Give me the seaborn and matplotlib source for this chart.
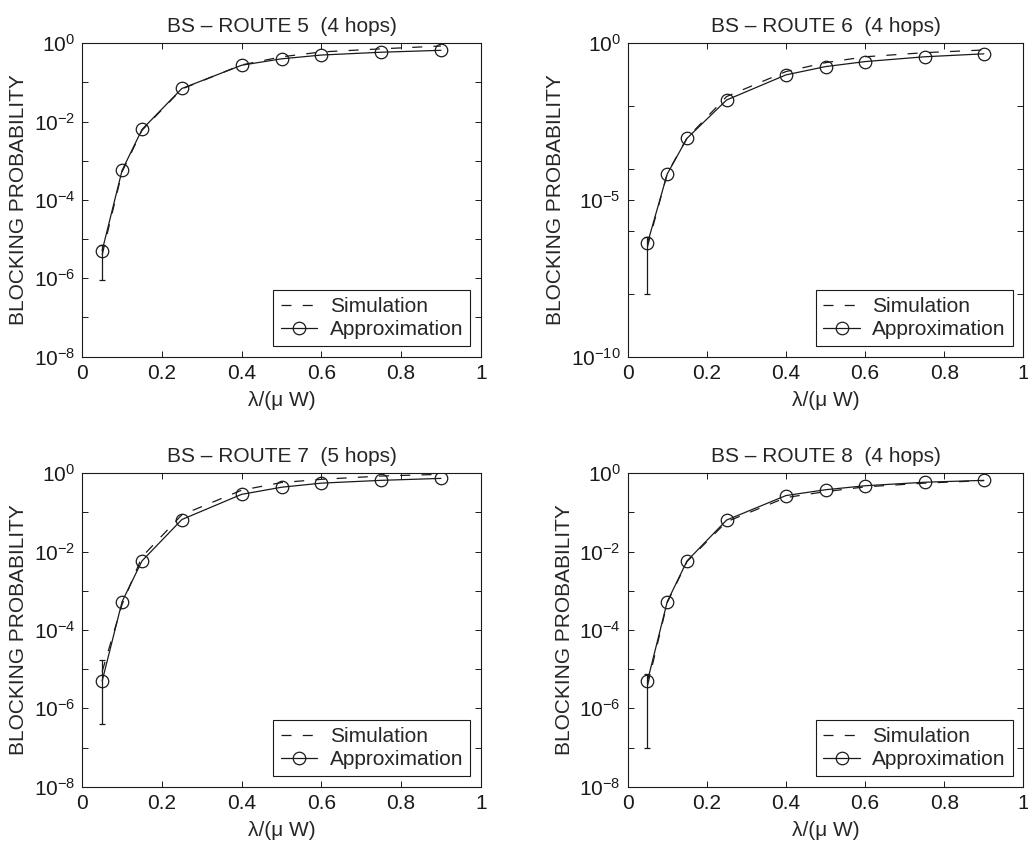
import numpy as np
import pandas as pd
import seaborn as sns
import matplotlib
matplotlib.use("Agg")
from matplotlib import pyplot as plt
from matplotlib.ticker import FixedLocator, LogFormatterMathtext, NullFormatter

# offered load lambda/(mu W)
load = [0.05, 0.1, 0.15, 0.25, 0.4, 0.5, 0.6, 0.75, 0.9]

titles = [
    "BS \u2013 ROUTE 5  (4 hops)",
    "BS \u2013 ROUTE 6  (4 hops)",
    "BS \u2013 ROUTE 7  (5 hops)",
    "BS \u2013 ROUTE 8  (4 hops)",
]

approx_r5 = [5.1e-6, 5.7e-4, 6.3e-3, 0.070, 0.275, 0.40, 0.50, 0.59, 0.66]
sim_r5 = [4.0e-6, 5.2e-4, 6.0e-3, 0.068, 0.28, 0.45, 0.60, 0.72, 0.85]
sim_err_r5 = [3.1e-6, 0, 0, 0, 0, 0, 0, 0, 0]

approx_r6 = [4.2e-7, 6.8e-5, 9.3e-4, 0.0155, 0.098, 0.18, 0.26, 0.37, 0.46]
sim_r6 = [3.25e-7, 7.0e-5, 9.5e-4, 0.020, 0.125, 0.24, 0.37, 0.50, 0.61]
sim_err_r6 = [3.15e-7, 0, 0, 0, 0, 0, 0, 0, 0]

approx_r7 = [5.0e-6, 5.3e-4, 5.8e-3, 0.066, 0.29, 0.44, 0.56, 0.66, 0.74]
sim_r7 = [8.7e-6, 4.5e-4, 7.4e-3, 0.087, 0.37, 0.58, 0.70, 0.85, 0.94]
sim_err_r7 = [8.3e-6, 0, 0, 0, 0, 0, 0, 0, 0]

approx_r8 = [5.0e-6, 5.3e-4, 5.8e-3, 0.064, 0.27, 0.38, 0.48, 0.59, 0.66]
sim_r8 = [3.8e-6, 5.0e-4, 5.6e-3, 0.058, 0.24, 0.34, 0.45, 0.56, 0.65]
sim_err_r8 = [3.7e-6, 0, 0, 0, 0, 0, 0, 0, 0]

approx_all = [approx_r5, approx_r6, approx_r7, approx_r8]
sim_all = [sim_r5, sim_r6, sim_r7, sim_r8]
err_all = [sim_err_r5, sim_err_r6, sim_err_r7, sim_err_r8]

# y range and labelled / unlabelled decades for each panel
ylims = [(1e-8, 1), (1e-10, 1), (1e-8, 1), (1e-8, 1)]
major_ticks = [
    [1e-8, 1e-6, 1e-4, 1e-2, 1e0],
    [1e-10, 1e-5, 1e0],
    [1e-8, 1e-6, 1e-4, 1e-2, 1e0],
    [1e-8, 1e-6, 1e-4, 1e-2, 1e0],
]
minor_ticks = [
    [1e-7, 1e-5, 1e-3, 1e-1],
    [1e-8, 1e-6, 1e-4, 1e-2],
    [1e-7, 1e-5, 1e-3, 1e-1],
    [1e-7, 1e-5, 1e-3, 1e-1],
]

sns.set_theme(style="ticks")
plt.rcParams["font.family"] = ["Liberation Sans", "DejaVu Sans"]
plt.rcParams["mathtext.fontset"] = "custom"
plt.rcParams["mathtext.rm"] = "Liberation Sans"
plt.rcParams["mathtext.it"] = "Liberation Sans:italic"
fs = 15

fig = plt.figure(figsize=(10.28, 8.48), dpi=100)
positions = [
    [0.080, 0.5794, 0.3877, 0.3696],
    [0.6106, 0.5794, 0.3850, 0.3696],
    [0.080, 0.0723, 0.3877, 0.3696],
    [0.6106, 0.0723, 0.3850, 0.3696],
]

for i in range(4):
    ax = fig.add_axes(positions[i])
    ax.set_yscale("log")
    df = pd.DataFrame({"load": load, "sim": sim_all[i], "approx": approx_all[i], "err": err_all[i]})

    sns.lineplot(data=df, x="load", y="sim", ax=ax, color="k", linewidth=0.9,
                 linestyle=(0, (8, 9)), label="Simulation", errorbar=None)
    sns.lineplot(data=df, x="load", y="approx", ax=ax, color="k", linewidth=0.9,
                 marker="o", markersize=9, markerfacecolor="none",
                 markeredgecolor="k", markeredgewidth=0.9,
                 label="Approximation", errorbar=None)
    eb = df[df["err"] > 0]
    ax.errorbar(eb["load"], eb["sim"], yerr=eb["err"], fmt="none", ecolor="k",
                elinewidth=0.9, capsize=2.5, capthick=0.9)

    ax.set_xlim(0, 1)
    ax.set_ylim(*ylims[i])
    ax.set_xticks([0, 0.2, 0.4, 0.6, 0.8, 1])
    ax.set_xticklabels(["0", "0.2", "0.4", "0.6", "0.8", "1"])
    ax.yaxis.set_major_locator(FixedLocator(major_ticks[i]))
    ax.yaxis.set_major_formatter(LogFormatterMathtext())
    ax.yaxis.set_minor_locator(FixedLocator(minor_ticks[i]))
    ax.yaxis.set_minor_formatter(NullFormatter())
    ax.tick_params(which="both", direction="in", top=True, right=True,
                   length=4, width=0.7, colors="k", labelsize=fs, pad=5)
    for s in ax.spines.values():
        s.set_visible(True)
        s.set_color("k")
        s.set_linewidth(0.8)

    ax.set_title(titles[i], fontsize=fs, pad=8)
    ax.set_xlabel("\u03bb/(\u03bc W)", fontsize=fs, labelpad=6)
    ax.set_ylabel("BLOCKING PROBABILITY", fontsize=fs, labelpad=4)

    leg = ax.legend(loc="lower right", fontsize=fs, frameon=True, fancybox=False,
                    edgecolor="k", framealpha=1, handlelength=1.75,
                    borderaxespad=0.5, borderpad=0.35, labelspacing=0.2,
                    handletextpad=0.6)
    leg.get_frame().set_linewidth(0.8)

fig.savefig("out.png", dpi=100)
